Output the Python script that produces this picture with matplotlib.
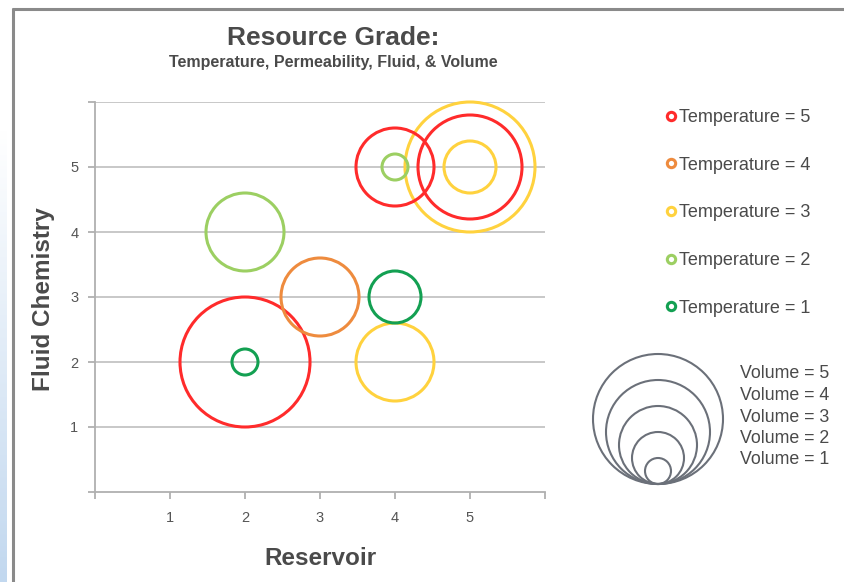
import matplotlib
matplotlib.use("Agg")
import matplotlib.pyplot as plt
import numpy as np
from matplotlib.lines import Line2D
from matplotlib.patches import Circle

# data
reservoir = [2, 2, 2, 3, 4, 4, 4, 4, 5, 5, 5]
fluid = [2, 2, 4, 3, 3, 2, 5, 5, 5, 5, 5]
temperature = [5, 1, 2, 4, 1, 3, 5, 2, 3, 5, 3]
volume = [5, 1, 3, 3, 2, 3, 3, 1, 5, 4, 2]

temp_levels = [5, 4, 3, 2, 1]
temp_colors = {5: "#FF2B2B", 4: "#EE8B3E", 3: "#FFD23E",
               2: "#9CCF62", 1: "#13A052"}
volume_levels = [5, 4, 3, 2, 1]
tick_values = [1, 2, 3, 4, 5]

W, H, DPI = 845, 582, 100
PX_PER_VOL = 13  # bubble radius in pixels per volume unit
TEXT = "#4A4A4A"


def diam_pt(v):
    return 2 * PX_PER_VOL * v * 72 / DPI


def main():
    plt.rcParams["font.family"] = ["Liberation Sans", "DejaVu Sans"]
    fig = plt.figure(figsize=(W / DPI, H / DPI), dpi=DPI)

    # outer frame and left blue strip
    fig.add_artist(Line2D([13.5 / W, 13.5 / W], [0, 1 - 8 / H],
                          color="#8A8A8A", lw=2.2, solid_capstyle="butt"))
    fig.add_artist(Line2D([12.5 / W, 1], [1 - 8.5 / H, 1 - 8.5 / H],
                          color="#8A8A8A", lw=2.2, solid_capstyle="butt"))
    strip = fig.add_axes([0, 0, 7 / W, 1 - 130 / H])
    grad = np.linspace(0, 1, 200).reshape(-1, 1)
    strip.imshow(grad, aspect="auto", cmap=matplotlib.colors.LinearSegmentedColormap.from_list(
        "s", ["#C2D8EF", "#FFFFFF"]), origin="lower")
    strip.axis("off")

    ax = fig.add_axes([95 / W, 1 - 492 / H, 450 / W, 390 / H])
    ax.set_xlim(0, 6)
    ax.set_ylim(0, 6)
    ax.set_xticks(range(7))
    ax.set_xticklabels([""] + [str(t) for t in tick_values] + [""])
    ax.set_yticks(range(7))
    ax.set_yticklabels([""] + [str(t) for t in tick_values] + [""])
    for y in range(1, 7):
        ax.axhline(y, color="#C4C4C4", lw=1.3, zorder=0)
    for s in ["top", "right"]:
        ax.spines[s].set_visible(False)
    for s in ["left", "bottom"]:
        ax.spines[s].set_color("#B0B0B0")
        ax.spines[s].set_linewidth(1.3)
    ax.tick_params(colors="#B0B0B0", labelcolor="#555555", labelsize=10.5,
                   length=5, width=1.3)
    ax.tick_params(axis="x", pad=9)
    ax.tick_params(axis="y", pad=7)

    order = sorted(range(len(volume)), key=lambda i: -volume[i])
    for i in order:
        ax.scatter(reservoir[i], fluid[i], s=diam_pt(volume[i]) ** 2,
                   facecolors="none", edgecolors=temp_colors[temperature[i]],
                   linewidths=2.2, clip_on=False, zorder=3)

    ax.set_xlabel("Reservoir", fontsize=17.5, fontweight="bold", color=TEXT)
    ax.xaxis.set_label_coords(0.5, -(547 - 492) / 390, transform=ax.transAxes)
    ax.set_ylabel("Fluid Chemistry", fontsize=17.5, fontweight="bold", color=TEXT)
    ax.yaxis.set_label_coords(-(95 - 55) / 450, (492 - 299) / 390,
                              transform=ax.transAxes)

    fig.text(333 / W, 1 - 38 / H, "Resource Grade:", ha="center", va="center",
             fontsize=19, fontweight="bold", color=TEXT)
    fig.text(333 / W, 1 - 62 / H, "Temperature, Permeability, Fluid, & Volume",
             ha="center", va="center", fontsize=11.5, fontweight="bold", color=TEXT)

    # temperature legend
    handles = [Line2D([], [], ls="none", marker="o", markersize=6,
                      markerfacecolor="none", markeredgewidth=2.2,
                      markeredgecolor=temp_colors[t]) for t in temp_levels]
    labels = ["Temperature = %d" % t for t in temp_levels]
    leg = fig.legend(handles, labels, loc="upper left",
                     bbox_to_anchor=(666 / W, 1 - 109 / H), frameon=False,
                     fontsize=13, labelspacing=1.7, handlelength=0.5,
                     handletextpad=0.2, borderpad=0, borderaxespad=0)
    for t in leg.get_texts():
        t.set_color(TEXT)

    # volume legend
    lx0, ly0, lw, lh = 585, 486, 150, 140
    vax = fig.add_axes([lx0 / W, 1 - ly0 / H, lw / W, lh / H])
    vax.set_xlim(0, lw)
    vax.set_ylim(0, lh)
    vax.axis("off")
    cx = 658 - lx0
    for v in volume_levels:
        r = PX_PER_VOL * v
        vax.add_patch(Circle((cx, r + 2), r, fill=False, ec="#6B7079", lw=1.5))
    for k, v in enumerate(volume_levels):
        fig.text(740 / W, 1 - (374 + 21.5 * k) / H, "Volume = %d" % v,
                 ha="left", va="center", fontsize=12.8, color=TEXT)

    fig.savefig("out.png", dpi=DPI)


if __name__ == "__main__":
    main()
